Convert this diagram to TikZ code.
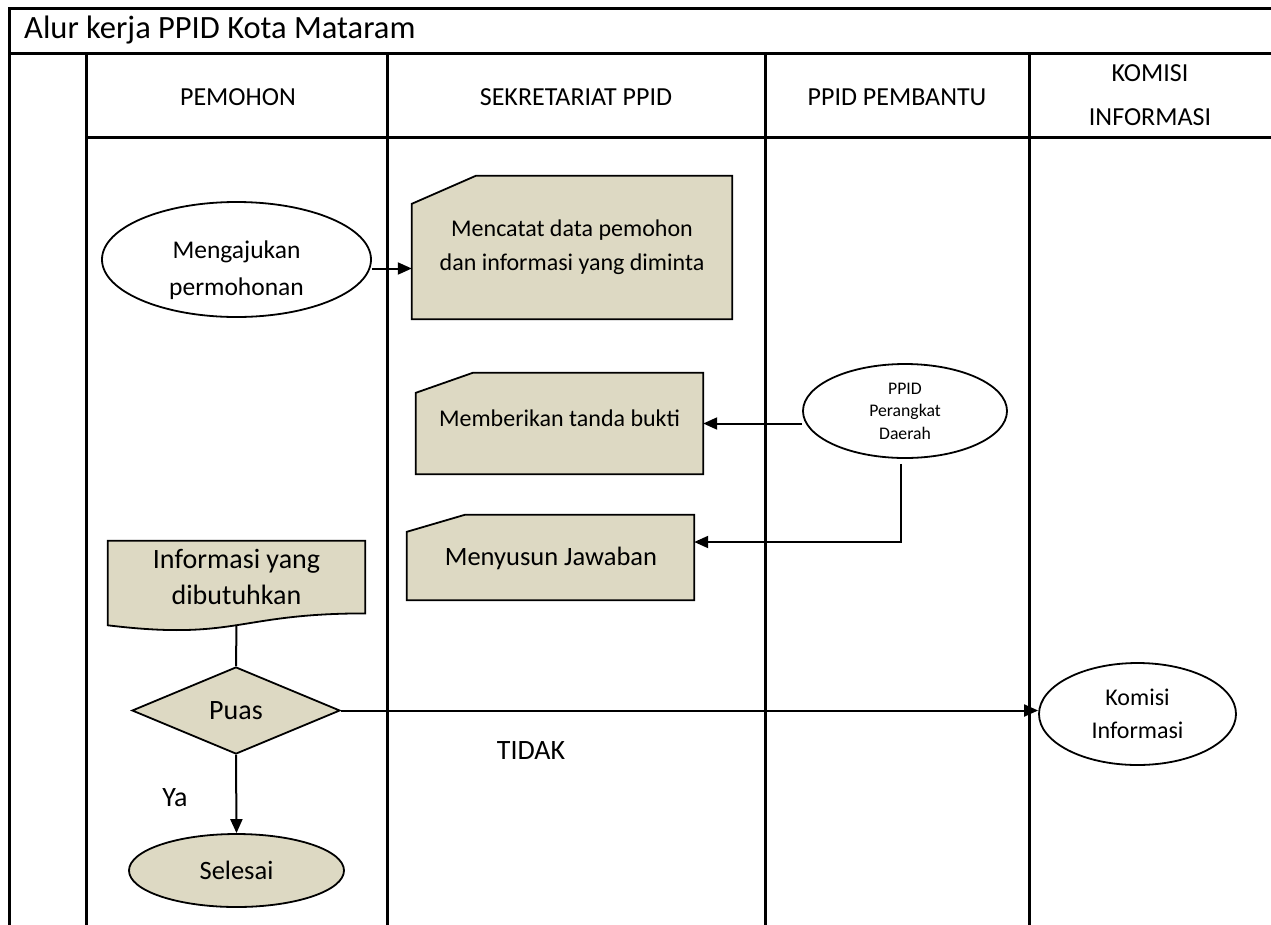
\documentclass[tikz,border=0pt]{standalone}
\usepackage{fontspec}
\setmainfont{Carlito}
\usetikzlibrary{shapes.geometric,arrows.meta,backgrounds,calc}
\definecolor{tanfill}{HTML}{DDD9C3}
\newcommand{\fs}[2]{\fontsize{#1}{#2}\selectfont}
\tikzset{
  gridline/.style={line width=3pt, line cap=rect},
  shp/.style={draw=black, line width=1.8pt},
  boxnode/.style={rectangle, draw=none, inner sep=0pt, align=center},
  ell/.style={ellipse, shp, inner sep=0pt, align=center},
  arr/.style={line width=2pt, -{Triangle[length=14pt,width=12pt]}},
  conn/.style={line width=2pt},
  hdr/.style={align=center, font=\fs{26}{44}},
  cardtxt/.style={font=\fs{24}{34}},
}
\begin{document}
\begin{tikzpicture}[x=1pt,y=-1pt]
\useasboundingbox (0,0) rectangle (1271,924);
% table grid
\draw[gridline] (9,924) -- (9,8) -- (1271,8);
\draw[gridline] (9,53) -- (1271,53);
\draw[gridline] (86,137) -- (1271,137);
\draw[gridline] (86,53) -- (86,924);
\draw[gridline] (387,53) -- (387,924);
\draw[gridline] (765,53) -- (765,924);
\draw[gridline] (1029,53) -- (1029,924);
% title and headers
\node[anchor=west, inner sep=0pt, font=\fs{32.5}{38}] (title) at (24,30) {Alur kerja PPID Kota Mataram};
\node[hdr] (h1) at (238,97) {PEMOHON};
\node[hdr] (h2) at (576,97) {SEKRETARIAT PPID};
\node[hdr] (h3) at (897,97) {PPID PEMBANTU};
\node[hdr] (h4) at (1150,95) {KOMISI\\INFORMASI};
% shapes
\node[ell, minimum width=269pt, minimum height=115pt] (e1) at (236.5,259.5) {};
\node[boxnode, font=\fs{25.5}{37}] (e1t) at (236.5,270) {Mengajukan\\permohonan};

\node[boxnode, cardtxt, minimum width=320pt, minimum height=143pt] (c1) at (572,247.5) {Mencatat data pemohon\\dan informasi yang diminta};
\node[boxnode, cardtxt, minimum width=287pt, minimum height=101pt] (c2) at (559.5,423.5) {};
\node[boxnode, cardtxt] (c2t) at (559.5,418) {Memberikan tanda bukti};
\node[boxnode, font=\fs{26.5}{34}, minimum width=287pt, minimum height=85pt] (c3) at (550.5,557.5) {};
\node[boxnode, font=\fs{26.5}{34}] (c3t) at (551,558) {Menyusun Jawaban};

\node[ell, minimum width=204pt, minimum height=94pt, font=\fs{17.7}{22.5}] (p) at (905,411) {PPID\\Perangkat\\Daerah};

\node[boxnode, minimum width=257pt, minimum height=90pt] (doc) at (236.5,586) {};
\node[boxnode, font=\fs{28}{36}] (doct) at (236.5,577) {Informasi yang\\dibutuhkan};

\node[diamond, shp, fill=tanfill, inner sep=0pt, minimum width=208pt, minimum height=87pt, font=\fs{28}{34}] (d) at (236,710.5) {Puas};

\node[ell, fill=tanfill, minimum width=215pt, minimum height=73pt, font=\fs{26.5}{30}] (sel) at (236.5,870.5) {Selesai};
\node[ell, minimum width=197pt, minimum height=102pt, font=\fs{24}{33}] (k) at (1137.5,714) {Komisi\\Informasi};

\node[font=\fs{28}{30}, inner sep=0pt] (tidak) at (531,751) {TIDAK};
\node[font=\fs{28}{30}, inner sep=0pt] (ya) at (175,798) {Ya};

\begin{scope}[on background layer]
\draw[shp, fill=tanfill] (c1.south west) -- ([yshift=-28pt]c1.north west) -- ([xshift=64pt]c1.north west) -- (c1.north east) -- (c1.south east) -- cycle;
\draw[shp, fill=tanfill] (c2.south west) -- ([yshift=-20pt]c2.north west) -- ([xshift=57pt]c2.north west) -- (c2.north east) -- (c2.south east) -- cycle;
\draw[shp, fill=tanfill] (c3.south west) -- ([yshift=-17pt]c3.north west) -- ([xshift=58pt]c3.north west) -- (c3.north east) -- (c3.south east) -- cycle;
\draw[shp, fill=tanfill] (doc.north west) -- (doc.north east) -- ([yshift=17.8pt]doc.south east)
  .. controls ([yshift=17.8pt]doc.south) and ([yshift=-9.7pt]doc.south) .. ([yshift=5.9pt]doc.south west) -- cycle;
\end{scope}
% connectors
\draw[arr] ([yshift=-9pt]e1.east) -- ([yshift=-9pt]e1.east -| c1.west);
\draw[arr] (p.west |- c2.east) -- (c2.east);
\draw[arr, shorten <=5pt] ([xshift=-4pt]p.south) |- ([yshift=15.5pt]c3.east);
\draw[conn] ([yshift=6pt]doc.south) -- (d.north);
\draw[arr] (d.east) -- (d.east -| k.west);
\draw[arr] (d.south) -- (sel.north);
\end{tikzpicture}
\end{document}
